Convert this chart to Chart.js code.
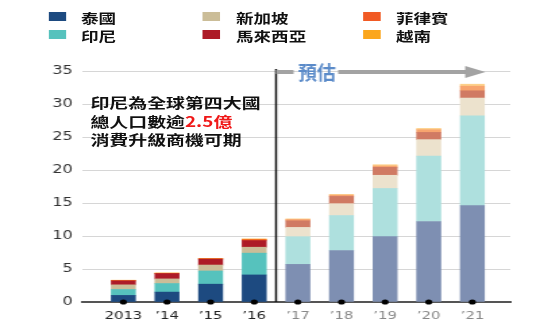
<!DOCTYPE html>
<html lang="zh-Hant">
  <head>
    <meta charset="UTF-8" />
    <title>東南亞</title>
    <script src="https://cdn.jsdelivr.net/npm/chart.js"></script>
    <style>
      html, body { margin: 0; padding: 0; background: #fff; overflow: hidden; }
      /* the whole picture is stretched sideways, so draw narrow and scale */
      #wrap { position: absolute; left: 0; top: 0; width: 400px; height: 330px; transform: scaleX(1.35); transform-origin: 0 0; }
      #wrap canvas { position: absolute; left: 0; top: 0; }
      .lg-box { position: absolute; width: 13px; height: 9px; }
      .lg-txt { position: absolute; font: bold 13px "Noto Sans CJK TC"; line-height: 16px; color: #111; white-space: nowrap; }
      #nota { position: absolute; left: 67px; top: 93px; font: bold 14px "Noto Sans CJK TC"; line-height: 18.7px; color: #111; white-space: nowrap; }
      #nota span { color: #f01818; }
    </style>
  </head>
  <body>
    <div id="wrap">
      <canvas id="myChart" width="400" height="330"></canvas>
      <div id="legenda"></div>
      <div id="nota">印尼為全球第四大國<br />總人口數逾<span>2.5億</span><br />消費升級商機可期</div>
    </div>
    <script>
      var anos = ["2013", "\u201914", "\u201915", "\u201916", "\u201917", "\u201918", "\u201919", "\u201920", "\u201921"];
      var paises = ["泰國", "印尼", "新加坡", "馬來西亞", "菲律賓", "越南"];
      var tailandia = [1.0, 1.5, 2.7, 4.1, 5.7, 7.8, 9.9, 12.2, 14.6];
      var indonesia = [0.9, 1.3, 2.0, 3.3, 4.2, 5.3, 7.3, 9.9, 13.6];
      var singapura = [0.7, 0.7, 0.9, 0.9, 1.4, 1.8, 2.0, 2.5, 2.7];
      var malasia = [0.6, 0.8, 0.9, 1.0, 1.0, 1.1, 1.2, 1.1, 1.1];
      var filipinas = [0.05, 0.05, 0.05, 0.15, 0.2, 0.2, 0.2, 0.4, 0.7];
      var vietna = [0.05, 0.05, 0.05, 0.1, 0.1, 0.1, 0.2, 0.2, 0.3];
      var yTicks = [0, 5, 10, 15, 20, 25, 30, 35];
      var inicioPrevisao = 4; // '17 onwards is forecast

      var series = [tailandia, indonesia, singapura, malasia, filipinas, vietna];
      var corHist = ["#1d4a80", "#56c2bd", "#cbbd98", "#ad1b27", "#f15a24", "#fba61c"];
      var corPrev = ["#7e8fb2", "#aee0de", "#ece2cd", "#d07a63", "#f7a46e", "#fdd08a"];

      // legend, three columns of two
      var legenda = document.getElementById("legenda");
      var colX = [35.6, 150.4, 268.9];
      var rowY = [12.3, 30];
      var html = "";
      paises.forEach(function (p, i) {
        var c = Math.floor(i / 2);
        var r = i % 2;
        html += '<div class="lg-box" style="left:' + colX[c] + "px;top:" + rowY[r] + "px;background:" + corHist[i] + '"></div>';
        html += '<div class="lg-txt" style="left:' + (colX[c] + 24.4) + "px;top:" + (rowY[r] - 2.5) + 'px">' + p + "</div>";
      });
      legenda.innerHTML = html;

      var datasets = series.map(function (vals, k) {
        return {
          label: paises[k],
          data: vals.map(function (v, i) { return { x: i, y: v }; }),
          backgroundColor: anos.map(function (_, i) { return i < inicioPrevisao ? corHist[k] : corPrev[k]; }),
          borderWidth: 0,
          barThickness: 17.8,
          stack: "paises",
        };
      });

      // black dots on the axis under each bar
      datasets.push({
        type: "line",
        label: "pontos",
        data: anos.map(function (_, i) { return { x: i, y: 0 }; }),
        stack: "pontos",
        showLine: false,
        pointRadius: 2.6,
        pointBackgroundColor: "#000",
        pointBorderWidth: 0,
        clip: false,
        order: -1,
      });

      var extras = {
        id: "extras",
        afterDatasetsDraw: function (chart) {
          var ctx = chart.ctx;
          var x = chart.scales.x;
          var y = chart.scales.y;
          var xd = x.getPixelForValue(inicioPrevisao - 0.5);
          var yt = y.getPixelForValue(35);
          var yb = y.getPixelForValue(0);
          ctx.save();
          ctx.strokeStyle = "#111";
          ctx.lineWidth = 1.5;
          ctx.beginPath();
          ctx.moveTo(xd, yt - 2);
          ctx.lineTo(xd, yb);
          ctx.stroke();

          var ya = yt + 1;
          var xe = x.getPixelForValue(8.3);
          ctx.strokeStyle = "#a3a3a3";
          ctx.lineWidth = 4;
          ctx.beginPath();
          ctx.moveTo(xd, ya);
          ctx.lineTo(xd + 13, ya);
          ctx.moveTo(xd + 46, ya);
          ctx.lineTo(xe - 12, ya);
          ctx.stroke();
          ctx.fillStyle = "#a3a3a3";
          ctx.beginPath();
          ctx.moveTo(xe, ya);
          ctx.lineTo(xe - 15, ya - 6);
          ctx.lineTo(xe - 15, ya + 6);
          ctx.closePath();
          ctx.fill();

          ctx.translate(xd + 16.3, ya);
          ctx.scale(0.74, 1);
          ctx.font = 'bold 19px "Noto Sans CJK TC"';
          ctx.fillStyle = "#5b8bc9";
          ctx.textBaseline = "middle";
          ctx.textAlign = "left";
          ctx.fillText("預估", 0, 1);
          ctx.restore();
        },
      };

      new Chart(document.getElementById("myChart"), {
        type: "bar",
        data: { datasets: datasets },
        plugins: [extras],
        options: {
          responsive: false,
          devicePixelRatio: 1,
          animation: false,
          layout: { padding: { top: 71, right: 22, left: 0, bottom: 0 } },
          plugins: { legend: { display: false }, tooltip: { enabled: false } },
          scales: {
            x: {
              type: "linear",
              min: -0.94,
              max: 8.87,
              offset: false,
              stacked: true,
              afterBuildTicks: function (s) {
                s.ticks = anos.map(function (_, i) { return { value: i }; });
              },
              afterFit: function (s) { s.height = 28; },
              grid: { drawOnChartArea: false, drawTicks: false },
              border: { color: "#555", width: 2 },
              ticks: {
                autoSkip: false,
                maxRotation: 0,
                padding: 8,
                font: { family: "DejaVu Sans", size: 11 },
                color: function (c) { return c.index < inicioPrevisao ? "#222" : "#888"; },
                callback: function (v) { return anos[v]; },
              },
            },
            y: {
              min: 0,
              max: 35,
              stacked: true,
              afterBuildTicks: function (s) {
                s.ticks = yTicks.map(function (v) { return { value: v }; });
              },
              afterFit: function (s) { s.width = 61; },
              grid: { color: "#d6d6d6", drawTicks: false },
              border: { display: false },
              ticks: { padding: 7, color: "#333", font: { family: "DejaVu Sans", size: 12 } },
            },
          },
        },
      });
    </script>
  </body>
</html>
